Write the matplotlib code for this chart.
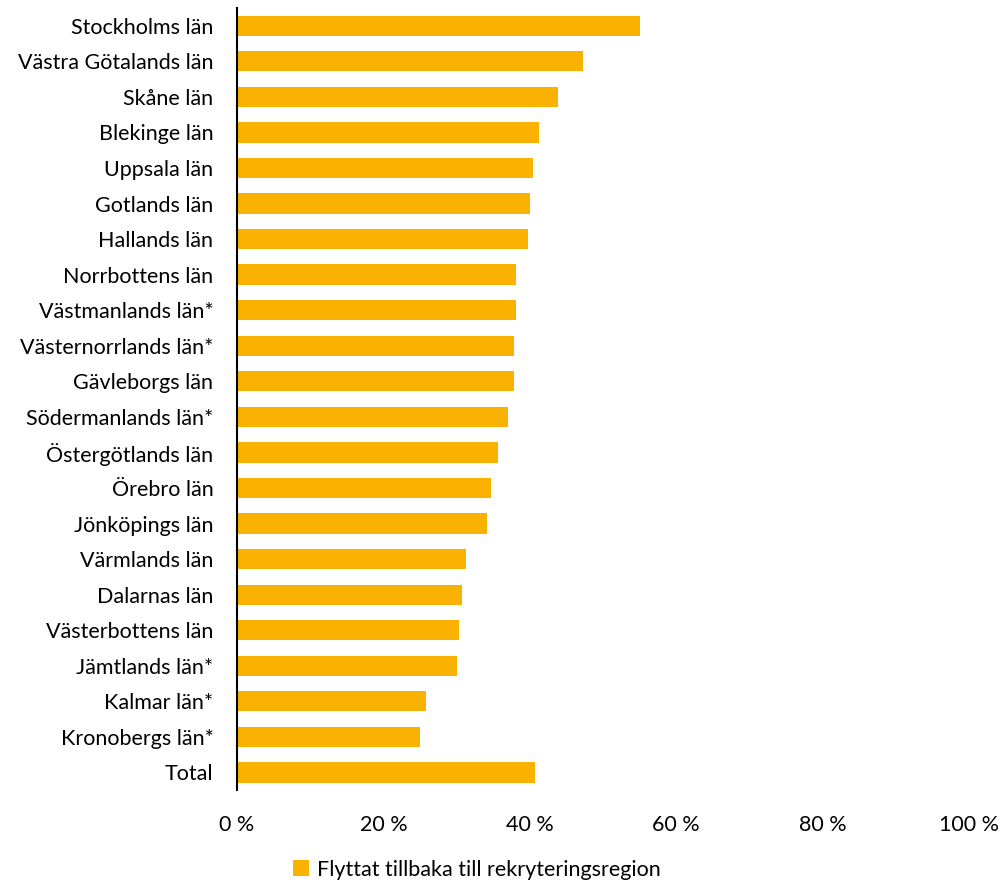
import matplotlib
matplotlib.use("Agg")
import matplotlib.pyplot as plt
from matplotlib.ticker import FuncFormatter

plt.rcParams['font.family'] = ['Lato', 'DejaVu Sans']

lan = ["Stockholms län", "Västra Götalands län", "Skåne län", "Blekinge län",
       "Uppsala län", "Gotlands län", "Hallands län", "Norrbottens län",
       "Västmanlands län*", "Västernorrlands län*", "Gävleborgs län",
       "Södermanlands län*", "Östergötlands län", "Örebro län",
       "Jönköpings län", "Värmlands län", "Dalarnas län", "Västerbottens län",
       "Jämtlands län*", "Kalmar län*", "Kronobergs län*", "Total"]
andel = [55.0, 47.3, 43.9, 41.3, 40.4, 40.0, 39.8, 38.1, 38.1, 37.9, 37.8,
         37.0, 35.7, 34.7, 34.1, 31.3, 30.8, 30.3, 30.1, 25.8, 25.0, 40.7]
serie = "Flyttat tillbaka till rekryteringsregion"
farg = "#F9B200"

fig = plt.figure(figsize=(10, 8.81), dpi=100)
ax = fig.add_axes([0.237, 0.103, 0.732, 0.888])

y = list(range(len(lan)))
ax.barh(y, andel, height=0.57, color=farg, label=serie)
ax.set_yticks(y)
ax.set_yticklabels(lan, fontsize=15.5)
ax.set_ylim(len(lan) - 0.5, -0.5)
ax.set_xlim(0, 100)
ax.set_xticks([0, 20, 40, 60, 80, 100])
ax.xaxis.set_major_formatter(FuncFormatter(lambda v, p: f"{v:.0f} %"))
ax.tick_params(axis='x', length=0, labelsize=15.5, pad=18)
ax.tick_params(axis='y', length=0, pad=17)

for s in ["top", "right", "bottom"]:
    ax.spines[s].set_visible(False)
ax.spines["left"].set_linewidth(1.5)

fig.legend(loc="center", bbox_to_anchor=(0.477, 0.013), frameon=False,
           fontsize=15.5, handlelength=0.75, handleheight=0.75, handletextpad=0.35)

fig.savefig("out.png", dpi=100)
